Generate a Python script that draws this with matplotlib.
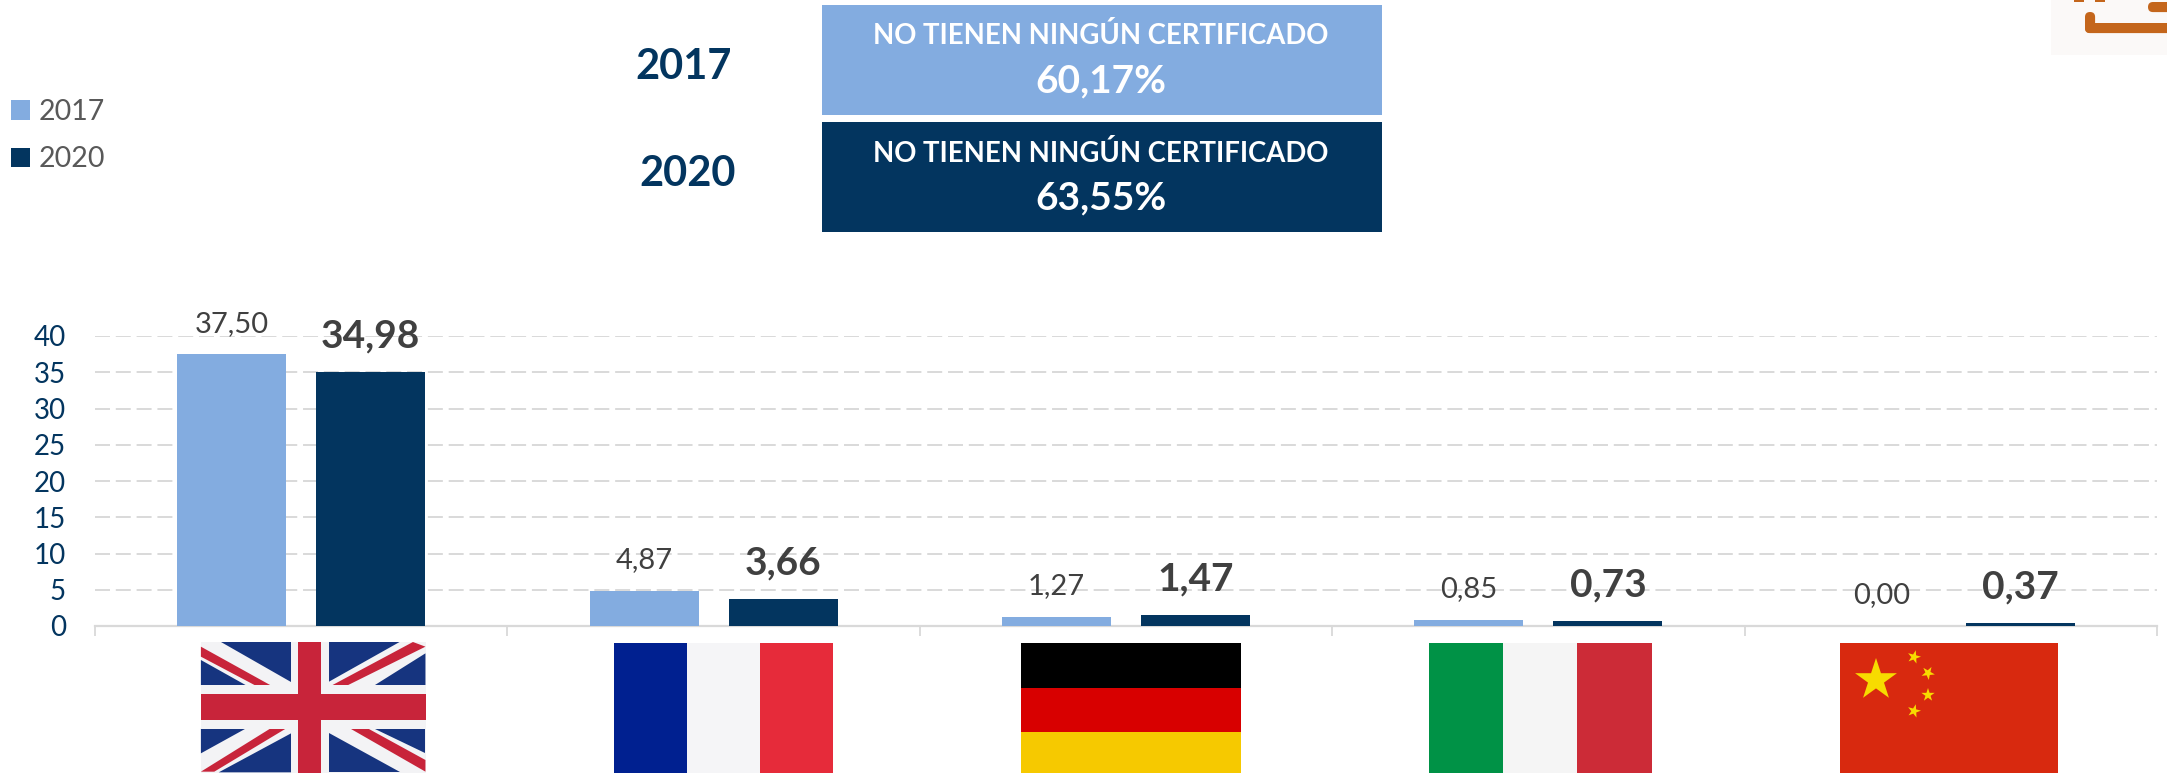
import matplotlib
matplotlib.use("Agg")
import matplotlib.pyplot as plt
from matplotlib.patches import Rectangle, Polygon, FancyBboxPatch
import numpy as np

plt.rcParams['font.family'] = ['Lato', 'DejaVu Sans']

countries = ["Reino Unido", "Francia", "Alemania", "Italia", "China"]
values_2017 = [37.50, 4.87, 1.27, 0.85, 0.00]
values_2020 = [34.98, 3.66, 1.47, 0.73, 0.37]
yticks = [0, 5, 10, 15, 20, 25, 30, 35, 40]
years = ["2017", "2020"]
headline = "NO TIENEN NINGÚN CERTIFICADO"
none_cert = ["60,17%", "63,55%"]

LIGHT = "#83ACE0"
DARK = "#03355F"
GREY = "#D9D9D9"
W, H = 2167, 773

fig = plt.figure(figsize=(W / 100, H / 100), dpi=100, facecolor="white")

# main chart
L, R, B, T = 95, 2157, 626, 336
ax = fig.add_axes([L / W, 1 - B / H, (R - L) / W, (B - T) / H])
x = np.arange(len(countries))
bw, off = 0.2645, 0.1685
b17 = ax.bar(x - off, values_2017, bw, color=LIGHT, label=years[0], zorder=3)
b20 = ax.bar(x + off, values_2020, bw, color=DARK, label=years[1], zorder=3)
ax.set_xlim(-0.5, len(countries) - 0.5)
ax.set_ylim(0, 40)
ax.set_yticks(yticks)
ax.set_xticks(np.arange(len(countries) + 1) - 0.5)
ax.set_xticklabels([])
ax.tick_params(axis="y", length=0, pad=21, labelsize=20, labelcolor=DARK)
ax.tick_params(axis="x", length=7, width=1.3, color=GREY)
ax.yaxis.grid(True, color=GREY, linewidth=1.4, linestyle=(0, (7.7, 3.0)), zorder=1)
ax.set_axisbelow(True)
for s in ("top", "left", "right"):
    ax.spines[s].set_visible(False)
ax.spines["bottom"].set_color(GREY)
ax.spines["bottom"].set_linewidth(1.6)
ax.patch.set_alpha(0)


def fmt(v):
    return f"{v:.2f}".replace(".", ",")


for xi, v in zip(x - off, values_2017):
    ax.annotate(fmt(v), (xi, v), xytext=(0, 22), textcoords="offset points",
                ha="center", va="center", fontsize=21, color="#404040",
                annotation_clip=False, zorder=5)
for xi, v in zip(x + off, values_2020):
    ax.annotate(fmt(v), (xi, v), xytext=(0, 26), textcoords="offset points",
                ha="center", va="center", fontsize=28, fontweight="bold",
                color="#404040", annotation_clip=False, zorder=5)

fig.legend(handles=[b17, b20], labels=years, loc="upper left",
           bbox_to_anchor=(11 / W, 1 - 99 / H), frameon=False, fontsize=20.5,
           labelcolor="#595959", handlelength=0.65, handleheight=0.65,
           handletextpad=0.33, labelspacing=0.75, borderpad=0, borderaxespad=0)

# overlay in pixel coordinates: header boxes, flags, logo fragment
ov = fig.add_axes([0, 0, 1, 1], zorder=10)
ov.set_xlim(0, W)
ov.set_ylim(H, 0)
ov.axis("off")
ov.patch.set_alpha(0)

boxes = [(5, 115, LIGHT), (122, 232, DARK)]
year_pos = [(684, 67), (688, 174)]
for (y0, y1, c), yr, (yx, yy), pct in zip(boxes, years, year_pos, none_cert):
    ov.add_patch(Rectangle((822, y0), 560, y1 - y0, color=c, lw=0))
    ov.text(1101, y0 + 31, headline, color="white", fontsize=19.8, fontweight="bold",
            ha="center", va="center")
    ov.text(1101, y0 + 76, pct, color="white", fontsize=28, fontweight="bold",
            ha="center", va="center")
    ov.text(yx, yy, yr, color=DARK, fontsize=30, fontweight="bold",
            ha="center", va="center")


def rect(x0, y0, x1, y1, c):
    ov.add_patch(Rectangle((x0, y0), x1 - x0, y1 - y0, color=c, lw=0))


def star(cx, cy, r, c, rot=0.0):
    a = np.deg2rad(-90 + rot) + np.arange(10) * np.pi / 5
    rr = np.where(np.arange(10) % 2 == 0, r, r * 0.382)
    ov.add_patch(Polygon(np.c_[cx + rr * np.cos(a), cy + rr * np.sin(a)], color=c, lw=0))


def ukpoly(points, c):
    # points read from the 2.24x / 3x crop of the flag
    ov.add_patch(Polygon([(px / 2.24, 280 + py / 3) for px, py in points], color=c, lw=0))


# United Kingdom
BLUE, RED, WHITE = "#16347F", "#C8243A", "#F3F3F5"
ux0, ux1, uy0, uy1 = 201, 426, 642, 773
rect(ux0, uy0, ux1, uy1, WHITE)
for tri in [
    [(495, 1086), (652, 1086), (652, 1205)],
    [(450, 1140), (550, 1215), (450, 1215)],
    [(737, 1086), (895, 1086), (737, 1205)],
    [(953, 1120), (840, 1215), (953, 1215)],
    [(450, 1346), (550, 1346), (450, 1420)],
    [(490, 1477), (652, 1360), (652, 1477)],
    [(840, 1346), (953, 1346), (953, 1420)],
    [(737, 1360), (737, 1477), (895, 1477)],
]:
    ukpoly(tri, BLUE)
for band in [
    [(450, 1100), (605, 1215), (570, 1215), (450, 1130)],
    [(925, 1086), (953, 1100), (780, 1215), (745, 1215)],
    [(450, 1475), (605, 1346), (640, 1346), (480, 1475)],
    [(785, 1346), (825, 1346), (953, 1440), (953, 1475)],
]:
    ukpoly(band, RED)
rect(291, uy0, 329, uy1, WHITE)
rect(ux0, 685, ux1, 729, WHITE)
rect(298, uy0, 321, uy1, RED)
rect(ux0, 694, ux1, 720, RED)

# France
rect(614, 643, 687, 773, "#002090")
rect(687, 643, 760, 773, "#F5F5F7")
rect(760, 643, 833, 773, "#E62B3A")

# Germany
rect(1021, 643, 1241, 688, "#000000")
rect(1021, 688, 1241, 732, "#D80000")
rect(1021, 732, 1241, 773, "#F6C900")

# Italy
rect(1429, 643, 1503, 773, "#009246")
rect(1503, 643, 1577, 773, "#F5F5F5")
rect(1577, 643, 1652, 773, "#CC2B37")

# China
rect(1840, 643, 2058, 773, "#D8290F")
YEL = "#F7DB00"
star(1876, 680, 22, YEL)
star(1914, 657, 7, YEL, 15)
star(1928, 673, 7, YEL, 30)
star(1928, 695, 7, YEL, 0)
star(1914, 711, 7, YEL, 15)

# logo fragment at top right
rect(2051, 0, 2167, 55, "#FBF9F8")
ORANGE = "#C4661C"
ov.add_patch(FancyBboxPatch((2090, 28), 90, 0.1, boxstyle="round,pad=5", color=ORANGE, lw=0))
ov.add_patch(FancyBboxPatch((2090, 17), 0.1, 11, boxstyle="round,pad=5", color=ORANGE, lw=0))
ov.add_patch(FancyBboxPatch((2153, 7), 30, 0.1, boxstyle="round,pad=5", color=ORANGE, lw=0))
for cx in (2079, 2100):
    ov.add_patch(Rectangle((cx - 5, 0), 10, 2, color=ORANGE, lw=0))

fig.savefig("out.png", dpi=100, facecolor="white")
